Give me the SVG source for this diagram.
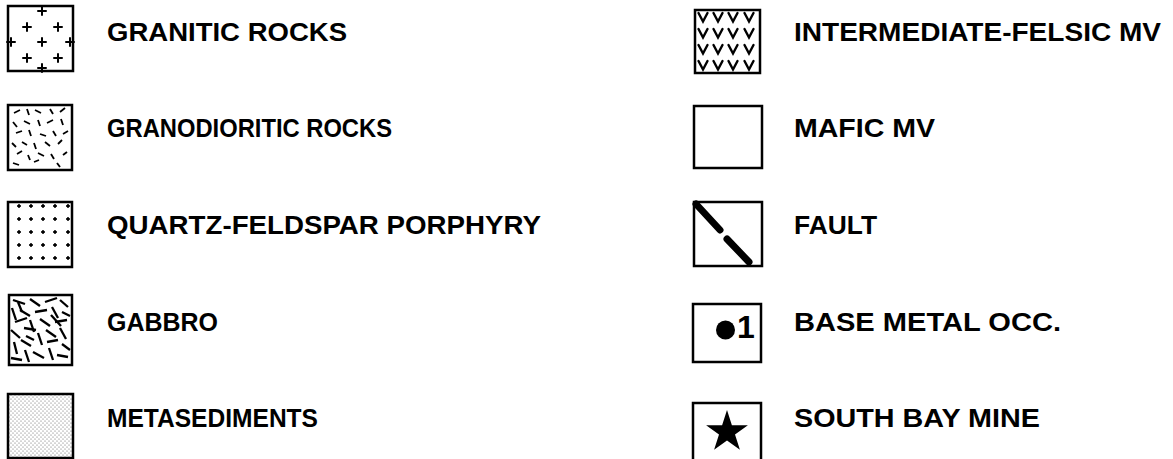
<svg xmlns="http://www.w3.org/2000/svg" width="1173" height="459" viewBox="0 0 1173 459">
<style>
.lbl{font-family:"Liberation Sans",Arial,sans-serif;font-weight:bold;font-size:25px;fill:#000}
.box{fill:#fff;stroke:#000;stroke-width:2.5}
.pat{stroke:#000;stroke-width:2;fill:none;stroke-linecap:round}
.vv{stroke:#000;stroke-width:2.4;fill:none;stroke-linecap:round;stroke-linejoin:miter}
.dash{stroke:#000;stroke-width:1.8;stroke-linecap:butt}
.gab{stroke:#000;stroke-width:2.3;stroke-linecap:butt}
</style>
<defs>
<pattern id="stip" width="4" height="4" patternUnits="userSpaceOnUse">
<circle cx="1" cy="1" r="0.55" fill="#555"/>
<circle cx="3" cy="3" r="0.55" fill="#555"/>
</pattern>
<path id="plus" d="M-4 0H4M0 -4V4" class="pat"/>
<path id="vee" d="M-4.5 -4L0 4.5L4.5 -4" class="vv"/>
<path id="qd" d="M-1.8 0H1.8M0 -1.8V1.8" stroke="#000" stroke-width="2"/>
</defs>

<g id="granitic">
<rect class="box" x="8" y="6" width="65" height="65"/>
<use href="#plus" x="42" y="11"/>
<use href="#plus" x="27" y="27"/>
<use href="#plus" x="58" y="27"/>
<use href="#plus" x="42" y="42"/>
<use href="#plus" x="27" y="58"/>
<use href="#plus" x="58" y="58"/>
<use href="#plus" x="42" y="68"/>
<use href="#plus" x="11" y="42"/>
<use href="#plus" x="70" y="42"/>
<text class="lbl" x="107" y="41" textLength="240" lengthAdjust="spacingAndGlyphs">GRANITIC ROCKS</text>
</g>

<g id="granodioritic">
<rect class="box" x="8" y="105" width="64" height="65"/>
<g class="dash">
<line x1="14" y1="113" x2="20" y2="110"/><line x1="27" y1="109" x2="29" y2="115"/><line x1="35" y1="110" x2="41" y2="113"/><line x1="50" y1="109" x2="53" y2="114"/><line x1="60" y1="112" x2="65" y2="108"/>
<line x1="13" y1="122" x2="17" y2="127"/><line x1="24" y1="121" x2="30" y2="124"/><line x1="38" y1="120" x2="40" y2="126"/><line x1="47" y1="123" x2="53" y2="120"/><line x1="61" y1="119" x2="63" y2="125"/>
<line x1="16" y1="133" x2="22" y2="131"/><line x1="29" y1="130" x2="31" y2="136"/><line x1="40" y1="134" x2="46" y2="136"/><line x1="53" y1="131" x2="56" y2="136"/><line x1="63" y1="134" x2="68" y2="131"/>
<line x1="12" y1="143" x2="16" y2="147"/><line x1="22" y1="142" x2="27" y2="145"/><line x1="34" y1="143" x2="36" y2="149"/><line x1="45" y1="142" x2="50" y2="146"/><line x1="58" y1="144" x2="62" y2="140"/>
<line x1="17" y1="154" x2="22" y2="151"/><line x1="28" y1="155" x2="30" y2="160"/><line x1="38" y1="153" x2="44" y2="156"/><line x1="51" y1="154" x2="54" y2="159"/><line x1="63" y1="155" x2="67" y2="152"/>
<line x1="13" y1="163" x2="19" y2="165"/><line x1="34" y1="162" x2="39" y2="160"/><line x1="57" y1="163" x2="60" y2="167"/>
</g>
<text class="lbl" x="107" y="137" textLength="285" lengthAdjust="spacingAndGlyphs">GRANODIORITIC ROCKS</text>
</g>

<g id="qfp">
<rect class="box" x="8" y="202" width="64" height="65"/>
<use href="#qd" x="19" y="206"/><use href="#qd" x="31" y="206"/><use href="#qd" x="43" y="206"/><use href="#qd" x="55" y="206"/><use href="#qd" x="68" y="206"/>
<use href="#qd" x="19" y="219"/><use href="#qd" x="31" y="219"/><use href="#qd" x="43" y="219"/><use href="#qd" x="55" y="219"/><use href="#qd" x="68" y="219"/>
<use href="#qd" x="19" y="232"/><use href="#qd" x="31" y="232"/><use href="#qd" x="43" y="232"/><use href="#qd" x="55" y="232"/><use href="#qd" x="68" y="232"/>
<use href="#qd" x="19" y="245"/><use href="#qd" x="31" y="245"/><use href="#qd" x="43" y="245"/><use href="#qd" x="55" y="245"/><use href="#qd" x="68" y="245"/>
<use href="#qd" x="19" y="258"/><use href="#qd" x="31" y="258"/><use href="#qd" x="43" y="258"/><use href="#qd" x="55" y="258"/><use href="#qd" x="68" y="258"/>
<text class="lbl" x="107" y="234" textLength="434" lengthAdjust="spacingAndGlyphs">QUARTZ-FELDSPAR PORPHYRY</text>
</g>

<g id="gabbro">
<rect class="box" x="9" y="295" width="63" height="70"/>
<g class="gab">
<line x1="13" y1="300" x2="25" y2="304"/><line x1="30" y1="299" x2="40" y2="306"/><line x1="45" y1="302" x2="57" y2="298"/><line x1="60" y1="300" x2="68" y2="307"/>
<line x1="12" y1="308" x2="16" y2="320"/><line x1="20" y1="310" x2="30" y2="316"/><line x1="35" y1="312" x2="47" y2="310"/><line x1="52" y1="307" x2="58" y2="318"/><line x1="62" y1="312" x2="70" y2="316"/>
<line x1="15" y1="322" x2="27" y2="318"/><line x1="30" y1="320" x2="34" y2="332"/><line x1="40" y1="319" x2="50" y2="326"/><line x1="55" y1="322" x2="67" y2="320"/>
<line x1="11" y1="330" x2="20" y2="338"/><line x1="24" y1="328" x2="36" y2="330"/><line x1="38" y1="333" x2="42" y2="345"/><line x1="46" y1="330" x2="56" y2="337"/><line x1="60" y1="328" x2="66" y2="339"/>
<line x1="14" y1="342" x2="17" y2="354"/><line x1="21" y1="340" x2="31" y2="346"/><line x1="47" y1="342" x2="58" y2="340"/><line x1="62" y1="344" x2="70" y2="350"/>
<line x1="11" y1="358" x2="22" y2="360"/><line x1="25" y1="350" x2="29" y2="362"/><line x1="33" y1="352" x2="44" y2="358"/><line x1="49" y1="348" x2="53" y2="360"/><line x1="57" y1="355" x2="68" y2="357"/>
<line x1="18" y1="302" x2="22" y2="312"/><line x1="26" y1="336" x2="34" y2="340"/><line x1="51" y1="315" x2="61" y2="326"/>
</g>
<text class="lbl" x="107" y="331" textLength="111" lengthAdjust="spacingAndGlyphs">GABBRO</text>
</g>

<g id="metasediments">
<rect class="box" x="8" y="394" width="65" height="64" style="fill:url(#stip)"/>
<text class="lbl" x="107" y="427" textLength="211" lengthAdjust="spacingAndGlyphs">METASEDIMENTS</text>
</g>

<g id="intermediate-felsic">
<rect class="box" x="695" y="10" width="65" height="63"/>
<use href="#vee" x="703" y="17"/><use href="#vee" x="718" y="17"/><use href="#vee" x="733" y="17"/><use href="#vee" x="749" y="17"/>
<use href="#vee" x="703" y="33"/><use href="#vee" x="718" y="33"/><use href="#vee" x="733" y="33"/><use href="#vee" x="749" y="33"/>
<use href="#vee" x="703" y="49"/><use href="#vee" x="718" y="49"/><use href="#vee" x="733" y="49"/><use href="#vee" x="749" y="49"/>
<use href="#vee" x="703" y="65"/><use href="#vee" x="718" y="65"/><use href="#vee" x="733" y="65"/><use href="#vee" x="749" y="65"/>
<text class="lbl" x="794" y="41" textLength="367" lengthAdjust="spacingAndGlyphs">INTERMEDIATE-FELSIC MV</text>
</g>

<g id="mafic">
<rect class="box" x="694" y="106" width="68" height="62"/>
<text class="lbl" x="794" y="137" textLength="141" lengthAdjust="spacingAndGlyphs">MAFIC MV</text>
</g>

<g id="fault">
<rect class="box" x="694" y="202" width="68" height="64"/>
<path d="M696 204L720 230M727 239L749 262" stroke="#000" stroke-width="7" stroke-linecap="round"/>
<text class="lbl" x="794" y="234" textLength="83" lengthAdjust="spacingAndGlyphs">FAULT</text>
</g>

<g id="base-metal">
<rect class="box" x="693" y="304" width="68" height="58"/>
<circle cx="725.5" cy="330" r="9.5" fill="#000"/>
<text x="737" y="338" style="font-family:'Liberation Sans',Arial,sans-serif;font-weight:bold;font-size:32px">1</text>
<text class="lbl" x="794" y="331" textLength="267" lengthAdjust="spacingAndGlyphs">BASE METAL OCC.</text>
</g>

<g id="south-bay">
<rect class="box" x="693" y="403" width="68" height="60"/>
<polygon points="727,410 731.9,425.2 747.9,425.2 735,434.6 739.9,449.8 727,440.4 714.1,449.8 719,434.6 706.1,425.2 722.1,425.2" fill="#000"/>
<text class="lbl" x="794" y="427" textLength="246" lengthAdjust="spacingAndGlyphs">SOUTH BAY MINE</text>
</g>

<g id="connectors"/>
</svg>
